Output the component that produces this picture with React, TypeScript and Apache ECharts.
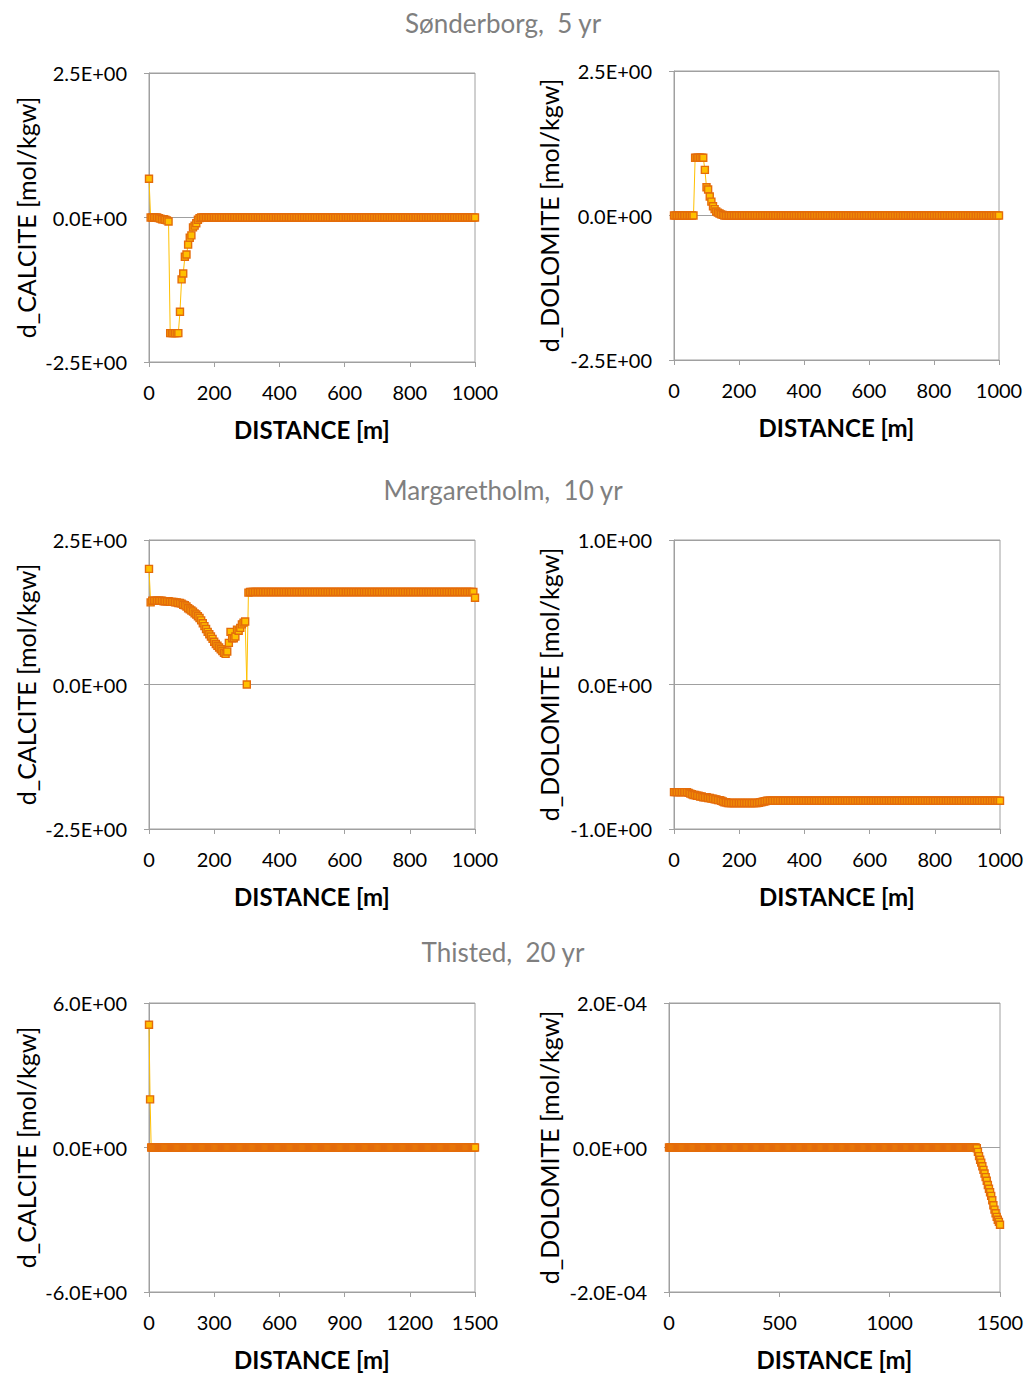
import React, { useEffect, useRef } from "react";
import * as echarts from "echarts";

// Distances along the flow path [m]
const DIST_1000 = [
  0, 5, 10, 15, 20, 25, 30, 35, 40, 45,
  50, 55, 60, 65, 70, 75, 80, 85, 90, 95,
  100, 105, 110, 115, 120, 125, 130, 135, 140, 145,
  150, 155, 160, 165, 170, 175, 180, 185, 190, 195,
  200, 205, 210, 215, 220, 225, 230, 235, 240, 245,
  250, 255, 260, 265, 270, 275, 280, 285, 290, 295,
  300, 305, 310, 315, 320, 325, 330, 335, 340, 345,
  350, 355, 360, 365, 370, 375, 380, 385, 390, 395,
  400, 405, 410, 415, 420, 425, 430, 435, 440, 445,
  450, 455, 460, 465, 470, 475, 480, 485, 490, 495,
  500, 505, 510, 515, 520, 525, 530, 535, 540, 545,
  550, 555, 560, 565, 570, 575, 580, 585, 590, 595,
  600, 605, 610, 615, 620, 625, 630, 635, 640, 645,
  650, 655, 660, 665, 670, 675, 680, 685, 690, 695,
  700, 705, 710, 715, 720, 725, 730, 735, 740, 745,
  750, 755, 760, 765, 770, 775, 780, 785, 790, 795,
  800, 805, 810, 815, 820, 825, 830, 835, 840, 845,
  850, 855, 860, 865, 870, 875, 880, 885, 890, 895,
  900, 905, 910, 915, 920, 925, 930, 935, 940, 945,
  950, 955, 960, 965, 970, 975, 980, 985, 990, 995,
  1000,
];

const DIST_1500 = [
  0, 5, 10, 15, 20, 25, 30, 35, 40, 45,
  50, 55, 60, 65, 70, 75, 80, 85, 90, 95,
  100, 105, 110, 115, 120, 125, 130, 135, 140, 145,
  150, 155, 160, 165, 170, 175, 180, 185, 190, 195,
  200, 205, 210, 215, 220, 225, 230, 235, 240, 245,
  250, 255, 260, 265, 270, 275, 280, 285, 290, 295,
  300, 305, 310, 315, 320, 325, 330, 335, 340, 345,
  350, 355, 360, 365, 370, 375, 380, 385, 390, 395,
  400, 405, 410, 415, 420, 425, 430, 435, 440, 445,
  450, 455, 460, 465, 470, 475, 480, 485, 490, 495,
  500, 505, 510, 515, 520, 525, 530, 535, 540, 545,
  550, 555, 560, 565, 570, 575, 580, 585, 590, 595,
  600, 605, 610, 615, 620, 625, 630, 635, 640, 645,
  650, 655, 660, 665, 670, 675, 680, 685, 690, 695,
  700, 705, 710, 715, 720, 725, 730, 735, 740, 745,
  750, 755, 760, 765, 770, 775, 780, 785, 790, 795,
  800, 805, 810, 815, 820, 825, 830, 835, 840, 845,
  850, 855, 860, 865, 870, 875, 880, 885, 890, 895,
  900, 905, 910, 915, 920, 925, 930, 935, 940, 945,
  950, 955, 960, 965, 970, 975, 980, 985, 990, 995,
  1000, 1005, 1010, 1015, 1020, 1025, 1030, 1035, 1040, 1045,
  1050, 1055, 1060, 1065, 1070, 1075, 1080, 1085, 1090, 1095,
  1100, 1105, 1110, 1115, 1120, 1125, 1130, 1135, 1140, 1145,
  1150, 1155, 1160, 1165, 1170, 1175, 1180, 1185, 1190, 1195,
  1200, 1205, 1210, 1215, 1220, 1225, 1230, 1235, 1240, 1245,
  1250, 1255, 1260, 1265, 1270, 1275, 1280, 1285, 1290, 1295,
  1300, 1305, 1310, 1315, 1320, 1325, 1330, 1335, 1340, 1345,
  1350, 1355, 1360, 1365, 1370, 1375, 1380, 1385, 1390, 1395,
  1400, 1405, 1410, 1415, 1420, 1425, 1430, 1435, 1440, 1445,
  1450, 1455, 1460, 1465, 1470, 1475, 1480, 1485, 1490, 1495,
  1500,
];

// Sønderborg, 5 yr
const SON_CALCITE = [
  0.67, 0, 0, 0, 0, 0, -0.01, -0.02, -0.03, -0.03,
  -0.04, -0.05, -0.07, -2.0, -2.0, -2.0, -2.0, -2.0, -2.0, -1.63,
  -1.07, -0.97, -0.68, -0.64, -0.47, -0.35, -0.31, -0.17, -0.14, -0.10,
  -0.04, -0.01, 0, 0, 0, 0, 0, 0, 0, 0,
  0, 0, 0, 0, 0, 0, 0, 0, 0, 0,
  0, 0, 0, 0, 0, 0, 0, 0, 0, 0,
  0, 0, 0, 0, 0, 0, 0, 0, 0, 0,
  0, 0, 0, 0, 0, 0, 0, 0, 0, 0,
  0, 0, 0, 0, 0, 0, 0, 0, 0, 0,
  0, 0, 0, 0, 0, 0, 0, 0, 0, 0,
  0, 0, 0, 0, 0, 0, 0, 0, 0, 0,
  0, 0, 0, 0, 0, 0, 0, 0, 0, 0,
  0, 0, 0, 0, 0, 0, 0, 0, 0, 0,
  0, 0, 0, 0, 0, 0, 0, 0, 0, 0,
  0, 0, 0, 0, 0, 0, 0, 0, 0, 0,
  0, 0, 0, 0, 0, 0, 0, 0, 0, 0,
  0, 0, 0, 0, 0, 0, 0, 0, 0, 0,
  0, 0, 0, 0, 0, 0, 0, 0, 0, 0,
  0, 0, 0, 0, 0, 0, 0, 0, 0, 0,
  0, 0, 0, 0, 0, 0, 0, 0, 0, 0,
  0,
];

const SON_DOLOMITE = [
  0, 0, 0, 0, 0, 0, 0, 0, 0, 0,
  0, 0, 0, 1.0, 1.0, 1.0, 1.0, 1.0, 1.0, 0.79,
  0.49, 0.45, 0.33, 0.24, 0.16, 0.11, 0.07, 0.05, 0.035, 0.02,
  0.01, 0, 0, 0, 0, 0, 0, 0, 0, 0,
  0, 0, 0, 0, 0, 0, 0, 0, 0, 0,
  0, 0, 0, 0, 0, 0, 0, 0, 0, 0,
  0, 0, 0, 0, 0, 0, 0, 0, 0, 0,
  0, 0, 0, 0, 0, 0, 0, 0, 0, 0,
  0, 0, 0, 0, 0, 0, 0, 0, 0, 0,
  0, 0, 0, 0, 0, 0, 0, 0, 0, 0,
  0, 0, 0, 0, 0, 0, 0, 0, 0, 0,
  0, 0, 0, 0, 0, 0, 0, 0, 0, 0,
  0, 0, 0, 0, 0, 0, 0, 0, 0, 0,
  0, 0, 0, 0, 0, 0, 0, 0, 0, 0,
  0, 0, 0, 0, 0, 0, 0, 0, 0, 0,
  0, 0, 0, 0, 0, 0, 0, 0, 0, 0,
  0, 0, 0, 0, 0, 0, 0, 0, 0, 0,
  0, 0, 0, 0, 0, 0, 0, 0, 0, 0,
  0, 0, 0, 0, 0, 0, 0, 0, 0, 0,
  0, 0, 0, 0, 0, 0, 0, 0, 0, 0,
  0,
];

// Margaretholm, 10 yr
const MAR_CALCITE = [
  2.0, 1.42, 1.45, 1.45, 1.45, 1.45, 1.45, 1.45, 1.45, 1.44,
  1.44, 1.44, 1.44, 1.43, 1.43, 1.43, 1.42, 1.42, 1.41, 1.41,
  1.40, 1.38, 1.37, 1.35, 1.32, 1.30, 1.28, 1.26, 1.23, 1.21,
  1.18, 1.15, 1.11, 1.06, 1.01, 0.96, 0.91, 0.87, 0.83, 0.79,
  0.74, 0.70, 0.67, 0.64, 0.61, 0.58, 0.55, 0.53, 0.57, 0.72,
  0.91, 0.80, 0.80, 0.83, 0.95, 0.93, 0.98, 1.04, 1.07, 1.09,
  0.0, 1.59, 1.6, 1.6, 1.6, 1.6, 1.6, 1.6, 1.6, 1.6,
  1.6, 1.6, 1.6, 1.6, 1.6, 1.6, 1.6, 1.6, 1.6, 1.6,
  1.6, 1.6, 1.6, 1.6, 1.6, 1.6, 1.6, 1.6, 1.6, 1.6,
  1.6, 1.6, 1.6, 1.6, 1.6, 1.6, 1.6, 1.6, 1.6, 1.6,
  1.6, 1.6, 1.6, 1.6, 1.6, 1.6, 1.6, 1.6, 1.6, 1.6,
  1.6, 1.6, 1.6, 1.6, 1.6, 1.6, 1.6, 1.6, 1.6, 1.6,
  1.6, 1.6, 1.6, 1.6, 1.6, 1.6, 1.6, 1.6, 1.6, 1.6,
  1.6, 1.6, 1.6, 1.6, 1.6, 1.6, 1.6, 1.6, 1.6, 1.6,
  1.6, 1.6, 1.6, 1.6, 1.6, 1.6, 1.6, 1.6, 1.6, 1.6,
  1.6, 1.6, 1.6, 1.6, 1.6, 1.6, 1.6, 1.6, 1.6, 1.6,
  1.6, 1.6, 1.6, 1.6, 1.6, 1.6, 1.6, 1.6, 1.6, 1.6,
  1.6, 1.6, 1.6, 1.6, 1.6, 1.6, 1.6, 1.6, 1.6, 1.6,
  1.6, 1.6, 1.6, 1.6, 1.6, 1.6, 1.6, 1.6, 1.6, 1.6,
  1.6, 1.6, 1.6, 1.6, 1.6, 1.6, 1.6, 1.6, 1.6, 1.6,
  1.5,
];

const MAR_DOLOMITE = [
  -0.745, -0.745, -0.745, -0.745, -0.745, -0.745, -0.745, -0.745, -0.745, -0.75,
  -0.755, -0.76, -0.765, -0.765, -0.77, -0.77, -0.775, -0.775, -0.78, -0.78,
  -0.78, -0.785, -0.785, -0.79, -0.79, -0.795, -0.795, -0.80, -0.80, -0.805,
  -0.81, -0.815, -0.815, -0.82, -0.82, -0.82, -0.82, -0.82, -0.82, -0.82,
  -0.82, -0.82, -0.82, -0.82, -0.82, -0.82, -0.82, -0.82, -0.82, -0.82,
  -0.82, -0.82, -0.818, -0.815, -0.813, -0.81, -0.808, -0.805, -0.805, -0.805,
  -0.805, -0.805, -0.805, -0.805, -0.805, -0.805, -0.805, -0.805, -0.805, -0.805,
  -0.805, -0.805, -0.805, -0.805, -0.805, -0.805, -0.805, -0.805, -0.805, -0.805,
  -0.805, -0.805, -0.805, -0.805, -0.805, -0.805, -0.805, -0.805, -0.805, -0.805,
  -0.805, -0.805, -0.805, -0.805, -0.805, -0.805, -0.805, -0.805, -0.805, -0.805,
  -0.805, -0.805, -0.805, -0.805, -0.805, -0.805, -0.805, -0.805, -0.805, -0.805,
  -0.805, -0.805, -0.805, -0.805, -0.805, -0.805, -0.805, -0.805, -0.805, -0.805,
  -0.805, -0.805, -0.805, -0.805, -0.805, -0.805, -0.805, -0.805, -0.805, -0.805,
  -0.805, -0.805, -0.805, -0.805, -0.805, -0.805, -0.805, -0.805, -0.805, -0.805,
  -0.805, -0.805, -0.805, -0.805, -0.805, -0.805, -0.805, -0.805, -0.805, -0.805,
  -0.805, -0.805, -0.805, -0.805, -0.805, -0.805, -0.805, -0.805, -0.805, -0.805,
  -0.805, -0.805, -0.805, -0.805, -0.805, -0.805, -0.805, -0.805, -0.805, -0.805,
  -0.805, -0.805, -0.805, -0.805, -0.805, -0.805, -0.805, -0.805, -0.805, -0.805,
  -0.805, -0.805, -0.805, -0.805, -0.805, -0.805, -0.805, -0.805, -0.805, -0.805,
  -0.805, -0.805, -0.805, -0.805, -0.805, -0.805, -0.805, -0.805, -0.805, -0.805,
  -0.805,
];

// Thisted, 20 yr
const THI_CALCITE = [
  5.1, 2.0, 0, 0, 0, 0, 0, 0, 0, 0,
  0, 0, 0, 0, 0, 0, 0, 0, 0, 0,
  0, 0, 0, 0, 0, 0, 0, 0, 0, 0,
  0, 0, 0, 0, 0, 0, 0, 0, 0, 0,
  0, 0, 0, 0, 0, 0, 0, 0, 0, 0,
  0, 0, 0, 0, 0, 0, 0, 0, 0, 0,
  0, 0, 0, 0, 0, 0, 0, 0, 0, 0,
  0, 0, 0, 0, 0, 0, 0, 0, 0, 0,
  0, 0, 0, 0, 0, 0, 0, 0, 0, 0,
  0, 0, 0, 0, 0, 0, 0, 0, 0, 0,
  0, 0, 0, 0, 0, 0, 0, 0, 0, 0,
  0, 0, 0, 0, 0, 0, 0, 0, 0, 0,
  0, 0, 0, 0, 0, 0, 0, 0, 0, 0,
  0, 0, 0, 0, 0, 0, 0, 0, 0, 0,
  0, 0, 0, 0, 0, 0, 0, 0, 0, 0,
  0, 0, 0, 0, 0, 0, 0, 0, 0, 0,
  0, 0, 0, 0, 0, 0, 0, 0, 0, 0,
  0, 0, 0, 0, 0, 0, 0, 0, 0, 0,
  0, 0, 0, 0, 0, 0, 0, 0, 0, 0,
  0, 0, 0, 0, 0, 0, 0, 0, 0, 0,
  0, 0, 0, 0, 0, 0, 0, 0, 0, 0,
  0, 0, 0, 0, 0, 0, 0, 0, 0, 0,
  0, 0, 0, 0, 0, 0, 0, 0, 0, 0,
  0, 0, 0, 0, 0, 0, 0, 0, 0, 0,
  0, 0, 0, 0, 0, 0, 0, 0, 0, 0,
  0, 0, 0, 0, 0, 0, 0, 0, 0, 0,
  0, 0, 0, 0, 0, 0, 0, 0, 0, 0,
  0, 0, 0, 0, 0, 0, 0, 0, 0, 0,
  0, 0, 0, 0, 0, 0, 0, 0, 0, 0,
  0, 0, 0, 0, 0, 0, 0, 0, 0, 0,
  0,
];

const THI_DOLOMITE = [
  0, 0, 0, 0, 0, 0, 0, 0, 0, 0,
  0, 0, 0, 0, 0, 0, 0, 0, 0, 0,
  0, 0, 0, 0, 0, 0, 0, 0, 0, 0,
  0, 0, 0, 0, 0, 0, 0, 0, 0, 0,
  0, 0, 0, 0, 0, 0, 0, 0, 0, 0,
  0, 0, 0, 0, 0, 0, 0, 0, 0, 0,
  0, 0, 0, 0, 0, 0, 0, 0, 0, 0,
  0, 0, 0, 0, 0, 0, 0, 0, 0, 0,
  0, 0, 0, 0, 0, 0, 0, 0, 0, 0,
  0, 0, 0, 0, 0, 0, 0, 0, 0, 0,
  0, 0, 0, 0, 0, 0, 0, 0, 0, 0,
  0, 0, 0, 0, 0, 0, 0, 0, 0, 0,
  0, 0, 0, 0, 0, 0, 0, 0, 0, 0,
  0, 0, 0, 0, 0, 0, 0, 0, 0, 0,
  0, 0, 0, 0, 0, 0, 0, 0, 0, 0,
  0, 0, 0, 0, 0, 0, 0, 0, 0, 0,
  0, 0, 0, 0, 0, 0, 0, 0, 0, 0,
  0, 0, 0, 0, 0, 0, 0, 0, 0, 0,
  0, 0, 0, 0, 0, 0, 0, 0, 0, 0,
  0, 0, 0, 0, 0, 0, 0, 0, 0, 0,
  0, 0, 0, 0, 0, 0, 0, 0, 0, 0,
  0, 0, 0, 0, 0, 0, 0, 0, 0, 0,
  0, 0, 0, 0, 0, 0, 0, 0, 0, 0,
  0, 0, 0, 0, 0, 0, 0, 0, 0, 0,
  0, 0, 0, 0, 0, 0, 0, 0, 0, 0,
  0, 0, 0, 0, 0, 0, 0, 0, 0, 0,
  0, 0, 0, 0, 0, 0, 0, 0, 0, 0,
  0, 0, 0, 0, 0, 0, 0, 0, 0, -0.01e-4,
  -0.06e-4, -0.12e-4, -0.17e-4, -0.21e-4, -0.26e-4, -0.31e-4, -0.36e-4, -0.41e-4, -0.46e-4, -0.52e-4,
  -0.57e-4, -0.62e-4, -0.67e-4, -0.73e-4, -0.80e-4, -0.86e-4, -0.91e-4, -0.96e-4, -1.00e-4, -1.03e-4,
  -1.07e-4,
];

// Tick labels
const X_LABELS_1000 = ["0", "200", "400", "600", "800", "1000"];
const X_LABELS_1500_300 = ["0", "300", "600", "900", "1200", "1500"];
const X_LABELS_1500_500 = ["0", "500", "1000", "1500"];
const Y_LABELS_2_5 = ["-2.5E+00", "0.0E+00", "2.5E+00"];
const Y_LABELS_1 = ["-1.0E+00", "0.0E+00", "1.0E+00"];
const Y_LABELS_6 = ["-6.0E+00", "0.0E+00", "6.0E+00"];
const Y_LABELS_2E4 = ["-2.0E-04", "0.0E+00", "2.0E-04"];

const SECTION_TITLES = ["Sønderborg,  5 yr", "Margaretholm,  10 yr", "Thisted,  20 yr"];
const X_NAME = "DISTANCE [m]";
const Y_NAME_CALCITE = "d_CALCITE [mol/kgw]";
const Y_NAME_DOLOMITE = "d_DOLOMITE [mol/kgw]";

const FONT = "Lato, 'Open Sans', sans-serif";
const GRAY = "#A0A0A0";

const zip = (xs: number[], ys: number[]) => xs.map((x, i) => [x, ys[i]]);

const PANELS = [
  { grid: { left: 149, top: 73, width: 326, height: 289 }, x: DIST_1000, y: SON_CALCITE, xMax: 1000, xInt: 200, xLabels: X_LABELS_1000, yMin: -2.5, yMax: 2.5, yInt: 2.5, yLabels: Y_LABELS_2_5, yName: Y_NAME_CALCITE, nameGap: 111 },
  { grid: { left: 674, top: 71, width: 325, height: 289 }, x: DIST_1000, y: SON_DOLOMITE, xMax: 1000, xInt: 200, xLabels: X_LABELS_1000, yMin: -2.5, yMax: 2.5, yInt: 2.5, yLabels: Y_LABELS_2_5, yName: Y_NAME_DOLOMITE, nameGap: 113 },
  { grid: { left: 149, top: 540, width: 326, height: 289 }, x: DIST_1000, y: MAR_CALCITE, xMax: 1000, xInt: 200, xLabels: X_LABELS_1000, yMin: -2.5, yMax: 2.5, yInt: 2.5, yLabels: Y_LABELS_2_5, yName: Y_NAME_CALCITE, nameGap: 111 },
  { grid: { left: 674, top: 540, width: 326, height: 289 }, x: DIST_1000, y: MAR_DOLOMITE, xMax: 1000, xInt: 200, xLabels: X_LABELS_1000, yMin: -1, yMax: 1, yInt: 1, yLabels: Y_LABELS_1, yName: Y_NAME_DOLOMITE, nameGap: 113 },
  { grid: { left: 149, top: 1003, width: 326, height: 289 }, x: DIST_1500, y: THI_CALCITE, xMax: 1500, xInt: 300, xLabels: X_LABELS_1500_300, yMin: -6, yMax: 6, yInt: 6, yLabels: Y_LABELS_6, yName: Y_NAME_CALCITE, nameGap: 111 },
  { grid: { left: 669, top: 1003, width: 331, height: 289 }, x: DIST_1500, y: THI_DOLOMITE, xMax: 1500, xInt: 500, xLabels: X_LABELS_1500_500, yMin: -2e-4, yMax: 2e-4, yInt: 2e-4, yLabels: Y_LABELS_2E4, yName: Y_NAME_DOLOMITE, nameGap: 108 },
];

const TITLE_TOPS = [10, 477, 939];

export default function App() {
  const ref = useRef<HTMLDivElement>(null);
  useEffect(() => {
    if (!ref.current) return;
    const chart = echarts.init(ref.current, undefined, { renderer: "svg" });
    const option: any = {
      animation: false,
      backgroundColor: "#ffffff",
      title: SECTION_TITLES.map((t, i) => ({
        text: t,
        left: 503,
        top: TITLE_TOPS[i],
        textAlign: "center",
        padding: 0,
        textStyle: { fontFamily: FONT, fontSize: 26, fontWeight: "normal", color: "#7F7F7F" },
      })),
      grid: PANELS.map((p) => ({
        ...p.grid,
        show: true,
        borderColor: GRAY,
        borderWidth: 1,
        backgroundColor: "transparent",
        containLabel: false,
        outerBoundsMode: "none",
      })),
      xAxis: PANELS.map((p, i) => ({
        gridIndex: i,
        type: "value",
        min: 0,
        max: p.xMax,
        interval: p.xInt,
        axisLine: { show: true, onZero: false, lineStyle: { color: GRAY } },
        axisTick: { show: true, length: 5, lineStyle: { color: GRAY } },
        splitLine: { show: false },
        axisLabel: {
          margin: 20,
          fontFamily: FONT,
          fontSize: 20,
          color: "#000",
          showMinLabel: true,
          showMaxLabel: true,
          formatter: (v: number) => p.xLabels[Math.round(v / p.xInt)],
        },
        name: X_NAME,
        nameLocation: "middle",
        nameGap: 55,
        nameTextStyle: { fontFamily: FONT, fontSize: 24, fontWeight: "bold", color: "#000" },
      })),
      yAxis: PANELS.map((p, i) => ({
        gridIndex: i,
        type: "value",
        min: p.yMin,
        max: p.yMax,
        interval: p.yInt,
        axisLine: { show: true, lineStyle: { color: GRAY } },
        axisTick: { show: true, length: 5, lineStyle: { color: GRAY } },
        splitLine: { show: true, lineStyle: { color: GRAY, width: 1 } },
        axisLabel: {
          margin: 22,
          fontFamily: FONT,
          fontSize: 20,
          color: "#000",
          showMinLabel: true,
          showMaxLabel: true,
          formatter: (v: number) => p.yLabels[Math.round((v - p.yMin) / p.yInt)],
        },
        name: p.yName,
        nameLocation: "middle",
        nameGap: p.nameGap,
        nameTextStyle: { fontFamily: FONT, fontSize: 25, color: "#000" },
      })),
      series: PANELS.map((p, i) => ({
        type: "line",
        xAxisIndex: i,
        yAxisIndex: i,
        data: zip(p.x, p.y),
        symbol: "rect",
        symbolSize: 7,
        showSymbol: true,
        showAllSymbol: true,
        lineStyle: { color: "#FFC000", width: 1 },
        itemStyle: { color: "#FFC000", borderColor: "#E46C0A", borderWidth: 1.4 },
        emphasis: { disabled: true },
        silent: true,
      })),
    };
    chart.setOption(option);
    return () => chart.dispose();
  }, []);
  return (
    <div
      ref={ref}
      style={{ position: "absolute", left: 0, top: 0, width: 1026, height: 1376 }}
    />
  );
}
